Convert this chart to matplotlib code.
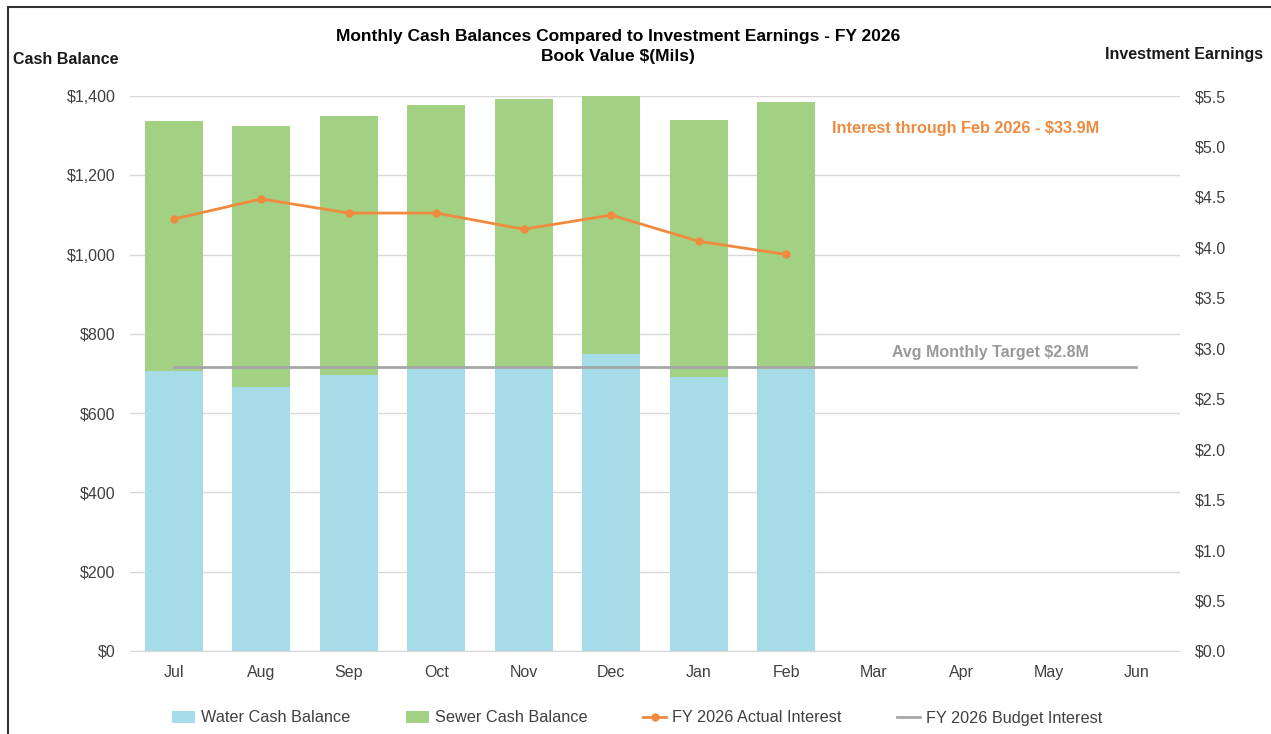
import matplotlib.pyplot as plt
from matplotlib.patches import Rectangle
from matplotlib.ticker import FuncFormatter

plt.rcParams['font.family'] = ['Liberation Sans', 'DejaVu Sans']

months = ['Jul', 'Aug', 'Sep', 'Oct', 'Nov', 'Dec', 'Jan', 'Feb', 'Mar', 'Apr', 'May', 'Jun']
water = [706, 666, 696, 716, 716, 749, 691, 711]
total = [1337, 1324, 1350, 1377, 1393, 1400, 1340, 1385]
sewer = [t - w for t, w in zip(total, water)]
interest = [4.28, 4.48, 4.34, 4.34, 4.18, 4.32, 4.06, 3.93]
budget = [2.81] * 12

c_water = '#A6DCE7'
c_sewer = '#A2D184'
c_orange = '#F08A3E'
c_gray = '#A6A6A6'
c_text = '#404040'

fig = plt.figure(figsize=(12.71, 7.34), dpi=100)
ax = fig.add_axes([130 / 1271, 1 - 651 / 734, 1050 / 1271, 555 / 734])
ax2 = ax.twinx()

x = list(range(len(months)))
n = len(water)
ax.bar(x[:n], water, width=0.66, color=c_water, zorder=2, label='Water Cash Balance')
ax.bar(x[:n], sewer, bottom=water, width=0.66, color=c_sewer, zorder=2, label='Sewer Cash Balance')

ax2.plot(x[:n], interest, color=c_orange, lw=2, marker='o', ms=5, label='FY 2026 Actual Interest', zorder=4)
ax2.plot(x, budget, color=c_gray, lw=2, label='FY 2026 Budget Interest', zorder=3)

ax.set_xlim(-0.5, 11.5)
ax.set_ylim(0, 1400)
ax2.set_ylim(0, 5.5)
ax.set_yticks(range(0, 1401, 200))
ax2.set_yticks([i * 0.5 for i in range(12)])
ax.yaxis.set_major_formatter(FuncFormatter(lambda v, p: '${:,.0f}'.format(v)))
ax2.yaxis.set_major_formatter(FuncFormatter(lambda v, p: '${:.1f}'.format(v)))
ax.set_xticks(x)
ax.set_xticklabels(months)

ax.grid(axis='y', color='#D9D9D9', lw=1, zorder=0)
ax.set_axisbelow(True)
for a in (ax, ax2):
    for s in a.spines.values():
        s.set_visible(False)
    a.tick_params(length=0, labelsize=11.5, colors=c_text)
ax.spines['bottom'].set_visible(True)
ax.spines['bottom'].set_color('#D9D9D9')
ax.tick_params(axis='y', pad=10.5)
ax.tick_params(axis='x', pad=10)
ax2.tick_params(axis='y', pad=10.5)

fig.text(618 / 1271, 1 - 36 / 734, 'Monthly Cash Balances Compared to Investment Earnings - FY 2026',
         ha='center', va='center', fontsize=12.5, fontweight='bold', color='black')
fig.text(618 / 1271, 1 - 57 / 734, 'Book Value $(Mils)',
         ha='center', va='center', fontsize=12.5, fontweight='bold', color='black')
fig.text(13 / 1271, 1 - 60 / 734, 'Cash Balance', ha='left', va='center',
         fontsize=11.5, fontweight='bold', color='#1a1a1a')
fig.text(1263 / 1271, 1 - 55 / 734, 'Investment Earnings', ha='right', va='center',
         fontsize=11.5, fontweight='bold', color='#1a1a1a')

ax2.text(7.52, 5.18, 'Interest through Feb 2026 - $33.9M', ha='left', va='center',
         fontsize=11.7, fontweight='bold', color=c_orange)
ax2.text(8.21, 2.96, 'Avg Monthly Target $2.8M', ha='left', va='center',
         fontsize=11.5, fontweight='bold', color='#999999')

h1, l1 = ax.get_legend_handles_labels()
h2, l2 = ax2.get_legend_handles_labels()
fig.legend(h1 + h2, l1 + l2, loc='center', bbox_to_anchor=(637 / 1271, 1 - 718 / 734),
           ncol=4, frameon=False, fontsize=11.7, handlelength=1.45, handleheight=0.7,
           columnspacing=3.4, handletextpad=0.35, labelcolor=c_text)

fig.patches.append(Rectangle((8 / 1271, -0.05), 1.1, 1 - 7 / 734 + 0.05, transform=fig.transFigure,
                             fill=False, edgecolor='#333333', lw=1.5))

fig.savefig('out.png', dpi=100)
